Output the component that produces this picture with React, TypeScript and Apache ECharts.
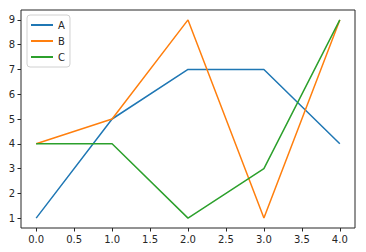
import React, { useEffect, useRef } from "react";
import * as echarts from "echarts";

const xValues = [0, 1, 2, 3, 4];
const seriesA = [1, 5, 7, 7, 4];
const seriesB = [4, 5, 9, 1, 9];
const seriesC = [4, 4, 1, 3, 9];
const xTicks = [0, 0.5, 1, 1.5, 2, 2.5, 3, 3.5, 4];
const yTicks = [1, 2, 3, 4, 5, 6, 7, 8, 9];
const names = ["A", "B", "C"];
const colors = ["#1f77b4", "#ff7f0e", "#2ca02c"];

export default function App() {
  const ref = useRef<HTMLDivElement>(null);
  useEffect(() => {
    if (!ref.current) return;
    const chart = echarts.init(ref.current, undefined, { renderer: "svg" });
    const font = "DejaVu Sans";
    const mk = (vals: number[]) => xValues.map((x, i) => [x, vals[i]]);
    const data = [seriesA, seriesB, seriesC];
    chart.setOption({
      animation: false,
      textStyle: { fontFamily: font },
      grid: {
        left: 21,
        top: 10,
        width: 334,
        height: 218,
        show: true,
        borderColor: "#262626",
        borderWidth: 1,
        containLabel: false,
      },
      legend: {
        left: 27,
        top: 15,
        orient: "vertical",
        padding: [5, 5, 5, 4],
        borderColor: "#d0d0d0",
        borderWidth: 1,
        borderRadius: 3,
        itemWidth: 22,
        itemHeight: 2,
        itemGap: 6,
        icon: "rect",
        textStyle: { fontFamily: font, fontSize: 10, color: "#262626" },
        data: names,
      },
      xAxis: {
        type: "value",
        min: -0.2,
        max: 4.2,
        splitLine: { show: false },
        axisLine: { show: false, onZero: false },
        axisTick: { show: true, inside: false, length: 3.5, lineStyle: { color: "#262626" }, customValues: xTicks },
        axisLabel: {
          customValues: xTicks,
          formatter: (v: number) => v.toFixed(1),
          fontFamily: font,
          fontSize: 10,
          color: "#262626",
          margin: 6,
        },
      },
      yAxis: {
        type: "value",
        min: 0.6,
        max: 9.4,
        splitLine: { show: false },
        axisLine: { show: false, onZero: false },
        axisTick: { show: true, inside: false, length: 3.5, lineStyle: { color: "#262626" }, customValues: yTicks },
        axisLabel: {
          customValues: yTicks,
          formatter: (v: number) => String(v),
          fontFamily: font,
          fontSize: 10,
          color: "#262626",
          margin: 6,
        },
      },
      series: names.map((n, i) => ({
        name: n,
        type: "line",
        data: mk(data[i]),
        showSymbol: false,
        symbol: "none",
        lineStyle: { width: 1.5, color: colors[i] },
        itemStyle: { color: colors[i] },
      })),
    });
    return () => chart.dispose();
  }, []);
  return (
    <div
      ref={ref}
      style={{ position: "fixed", left: 0, top: 0, width: 366, height: 252, background: "#fff" }}
    />
  );
}
